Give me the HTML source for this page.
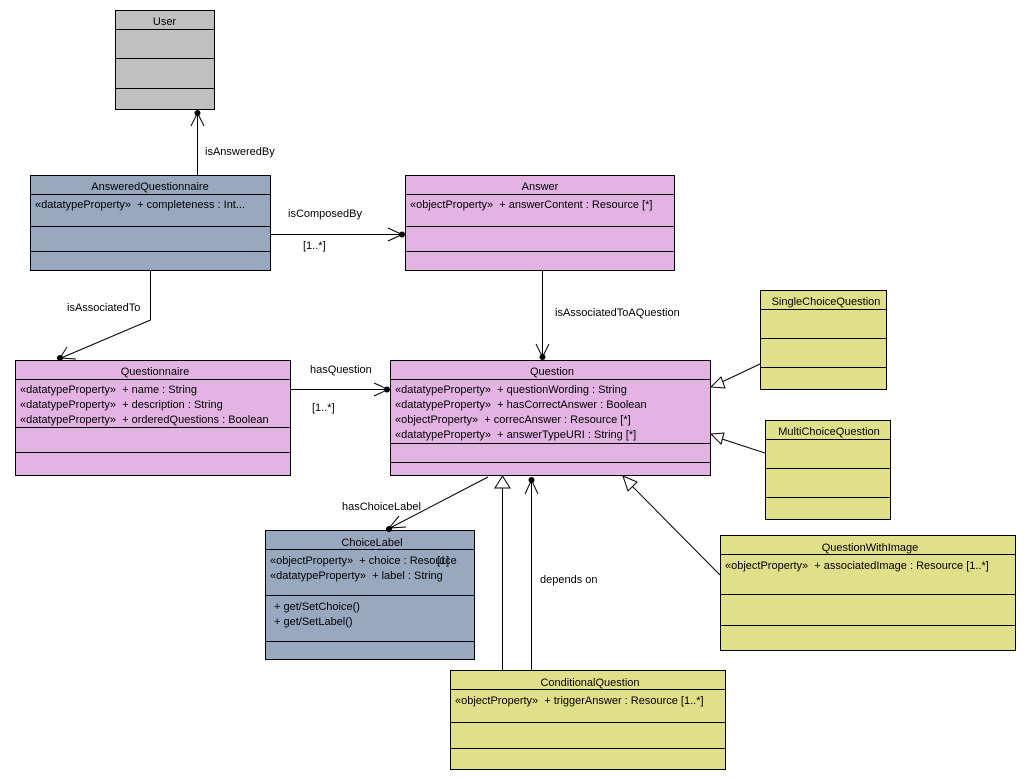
<!DOCTYPE html>
<html><head><meta charset="utf-8"><style>
html,body{margin:0;padding:0;background:#fff;}
svg{display:block;}
text{font-family:"Liberation Sans",sans-serif;font-size:11px;fill:#000;white-space:pre;}
</style></head><body>
<svg width="1026" height="780" viewBox="0 0 1026 780" xmlns="http://www.w3.org/2000/svg" xml:space="preserve">
<g stroke="#000" stroke-width="1" shape-rendering="crispEdges">
<rect x="115.5" y="10.5" width="99" height="99" fill="#c0c0c0"/>
<line x1="115" y1="29.5" x2="214" y2="29.5"/><line x1="115" y1="58.5" x2="214" y2="58.5"/><line x1="115" y1="88.5" x2="214" y2="88.5"/>
<rect x="30.5" y="175.5" width="240" height="95" fill="#98a8bf"/>
<line x1="30" y1="194.5" x2="270" y2="194.5"/><line x1="30" y1="226.5" x2="270" y2="226.5"/><line x1="30" y1="251.5" x2="270" y2="251.5"/>
<rect x="405.5" y="175.5" width="269" height="95" fill="#e3b3e3"/>
<line x1="405" y1="194.5" x2="674" y2="194.5"/><line x1="405" y1="226.5" x2="674" y2="226.5"/><line x1="405" y1="251.5" x2="674" y2="251.5"/>
<rect x="15.5" y="360.5" width="275" height="115" fill="#e3b3e3"/>
<line x1="15" y1="379.5" x2="290" y2="379.5"/><line x1="15" y1="427.5" x2="290" y2="427.5"/><line x1="15" y1="452.5" x2="290" y2="452.5"/>
<rect x="390.5" y="360.5" width="320" height="115" fill="#e3b3e3"/>
<line x1="390" y1="379.5" x2="710" y2="379.5"/><line x1="390" y1="443.5" x2="710" y2="443.5"/><line x1="390" y1="462.5" x2="710" y2="462.5"/>
<rect x="760.5" y="290.5" width="126" height="99" fill="#e0e08a"/>
<line x1="760" y1="309.5" x2="886" y2="309.5"/><line x1="760" y1="338.5" x2="886" y2="338.5"/><line x1="760" y1="367.5" x2="886" y2="367.5"/>
<rect x="765.5" y="420.5" width="125" height="99" fill="#e0e08a"/>
<line x1="765" y1="439.5" x2="890" y2="439.5"/><line x1="765" y1="468.5" x2="890" y2="468.5"/><line x1="765" y1="497.5" x2="890" y2="497.5"/>
<rect x="720.5" y="535.5" width="295" height="115" fill="#e0e08a"/>
<line x1="720" y1="554.5" x2="1015" y2="554.5"/><line x1="720" y1="594.5" x2="1015" y2="594.5"/><line x1="720" y1="625.5" x2="1015" y2="625.5"/>
<rect x="265.5" y="530.5" width="209" height="129" fill="#98a8bf"/>
<line x1="265" y1="549.5" x2="474" y2="549.5"/><line x1="265" y1="595.5" x2="474" y2="595.5"/><line x1="265" y1="641.5" x2="474" y2="641.5"/>
<rect x="450.5" y="670.5" width="275" height="99" fill="#e0e08a"/>
<line x1="450" y1="689.5" x2="725" y2="689.5"/><line x1="450" y1="722.5" x2="725" y2="722.5"/><line x1="450" y1="748.5" x2="725" y2="748.5"/>
</g>
<g stroke="#000" stroke-width="1" fill="none">
<line x1="197.5" y1="175" x2="197.5" y2="112"/>
<polyline points="191,126 197.5,113 204,126"/>
<line x1="270" y1="234.5" x2="403" y2="234.5"/>
<polyline points="388,228 402,234.5 388,241"/>
<polyline points="150.5,270 150.5,320 61,358"/>
<polyline points="67,347 60,358 76,359"/>
<line x1="290" y1="389.5" x2="388" y2="389.5"/>
<polyline points="374,383 388,389.5 374,396"/>
<line x1="542.5" y1="270" x2="542.5" y2="357"/>
<polyline points="536,344 542.5,357 549,344"/>
<line x1="488" y1="477" x2="390" y2="528"/>
<polyline points="399,516 389,528 406,527"/>
<line x1="531.5" y1="670" x2="531.5" y2="480"/>
<polyline points="525,494 531.5,480 538,494"/>
<line x1="502.5" y1="670" x2="502.5" y2="488"/>
<line x1="760" y1="364" x2="722" y2="382"/>
<line x1="765" y1="453" x2="722" y2="439"/>
<line x1="720" y1="575" x2="632" y2="486"/>
</g>
<g stroke="#000" fill="#fff">
<polygon points="502.5,476 495,488 510,488"/>
<polygon points="711,387 721,377 725,388"/>
<polygon points="711,434 724,433 721,444"/>
<polygon points="623,476 637,482 628,491"/>
</g>
<g fill="#000">
<circle cx="197.5" cy="113" r="3"/>
<circle cx="402" cy="234.5" r="3"/>
<circle cx="60" cy="358" r="3"/>
<circle cx="387" cy="389.5" r="3"/>
<circle cx="542.5" cy="357" r="3"/>
<circle cx="389" cy="529" r="3"/>
<circle cx="531.5" cy="480" r="3"/>
</g>
<text x="164.5" y="25" text-anchor="middle">User</text>
<text x="150" y="190" text-anchor="middle">AnsweredQuestionnaire</text>
<text x="35" y="208">«datatypeProperty»  + completeness : Int...</text>
<text x="540" y="190" text-anchor="middle">Answer</text>
<text x="410" y="208">«objectProperty»  + answerContent : Resource [*]</text>
<text x="155" y="375" text-anchor="middle">Questionnaire</text>
<text x="20" y="393">«datatypeProperty»  + name : String</text>
<text x="20" y="408">«datatypeProperty»  + description : String</text>
<text x="20" y="423">«datatypeProperty»  + orderedQuestions : Boolean</text>
<text x="552" y="375" text-anchor="middle">Question</text>
<text x="395" y="393">«datatypeProperty»  + questionWording : String</text>
<text x="395" y="408">«datatypeProperty»  + hasCorrectAnswer : Boolean</text>
<text x="395" y="423">«objectProperty»  + correcAnswer : Resource [*]</text>
<text x="395" y="438">«datatypeProperty»  + answerTypeURI : String [*]</text>
<text x="826" y="305" text-anchor="middle">SingleChoiceQuestion</text>
<text x="829" y="435" text-anchor="middle">MultiChoiceQuestion</text>
<text x="870" y="551" text-anchor="middle">QuestionWithImage</text>
<text x="725" y="569">«objectProperty»  + associatedImage : Resource [1..*]</text>
<text x="372" y="546" text-anchor="middle">ChoiceLabel</text>
<text x="270" y="564">«objectProperty»  + choice : Resource</text>
<text x="437" y="564">[1]</text>
<text x="270" y="579">«datatypeProperty»  + label : String</text>
<text x="274" y="610">+ get/SetChoice()</text>
<text x="274" y="625">+ get/SetLabel()</text>
<text x="590" y="686" text-anchor="middle">ConditionalQuestion</text>
<text x="455" y="704">«objectProperty»  + triggerAnswer : Resource [1..*]</text>
<text x="205" y="155">isAnsweredBy</text>
<text x="288" y="217">isComposedBy</text>
<text x="303" y="249">[1..*]</text>
<text x="67" y="311">isAssociatedTo</text>
<text x="310" y="373">hasQuestion</text>
<text x="312" y="411">[1..*]</text>
<text x="555" y="316">isAssociatedToAQuestion</text>
<text x="342" y="510">hasChoiceLabel</text>
<text x="540" y="583">depends on</text>
</svg>
</body></html>
